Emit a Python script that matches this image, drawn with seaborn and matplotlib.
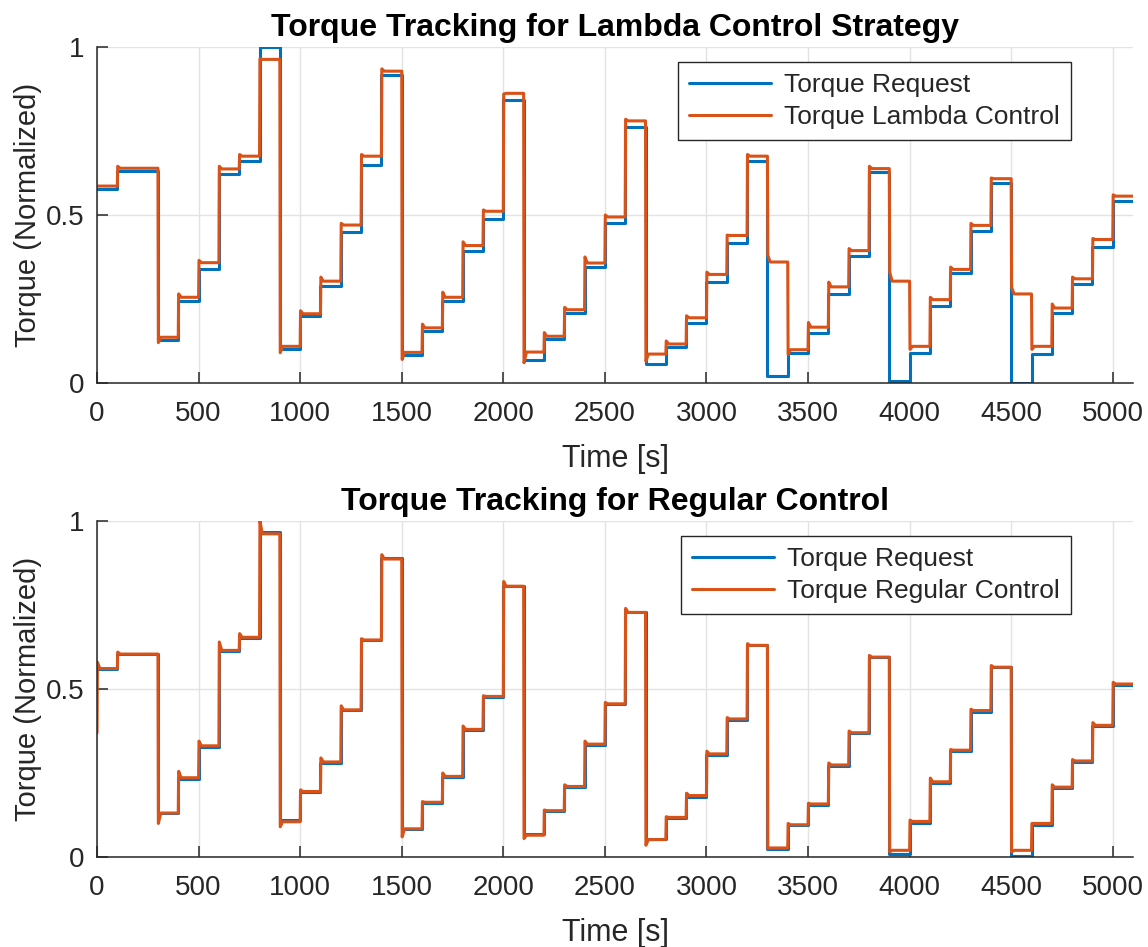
import numpy as np
import pandas as pd
import matplotlib
matplotlib.use("Agg")
import matplotlib.pyplot as plt
import seaborn as sns

# ---------------- data ----------------
seg_start = list(range(0, 5100, 100))   # each set-point lasts 100 s
t_end = 5100

# Top panel
top_request = [0.576, 0.631, 0.631, 0.127, 0.243, 0.340, 0.623, 0.660, 1.000, 0.102,
               0.198, 0.288, 0.450, 0.650, 0.916, 0.084, 0.156, 0.245, 0.392, 0.487,
               0.842, 0.067, 0.131, 0.208, 0.346, 0.477, 0.762, 0.055, 0.106, 0.179,
               0.300, 0.417, 0.660, 0.020, 0.089, 0.149, 0.266, 0.379, 0.628, 0.005,
               0.089, 0.230, 0.328, 0.452, 0.596, 0.000, 0.087, 0.207, 0.296, 0.404,
               0.543]
top_lambda = [0.586, 0.639, 0.639, 0.136, 0.255, 0.358, 0.637, 0.675, 0.963, 0.109,
              0.206, 0.303, 0.470, 0.675, 0.928, 0.091, 0.164, 0.255, 0.409, 0.511,
              0.862, 0.092, 0.139, 0.218, 0.357, 0.494, 0.780, 0.086, 0.116, 0.194,
              0.323, 0.439, 0.675, 0.360, 0.099, 0.166, 0.286, 0.394, 0.638, 0.303,
              0.109, 0.248, 0.338, 0.469, 0.608, 0.265, 0.109, 0.223, 0.310, 0.427,
              0.556]
top_lambda_peak = [0.586, 0.645, 0.639, 0.120, 0.265, 0.365, 0.645, 0.680, 0.965, 0.090,
                   0.215, 0.315, 0.475, 0.680, 0.935, 0.070, 0.175, 0.270, 0.420, 0.515,
                   0.860, 0.060, 0.150, 0.225, 0.375, 0.500, 0.785, 0.065, 0.125, 0.200,
                   0.330, 0.440, 0.680, 0.380, 0.085, 0.180, 0.300, 0.400, 0.645, 0.330,
                   0.100, 0.255, 0.345, 0.475, 0.610, 0.285, 0.100, 0.235, 0.315, 0.430,
                   0.560]
top_lambda_init = 0.586

# Bottom panel
bot_request = [0.559, 0.603, 0.603, 0.131, 0.233, 0.328, 0.613, 0.652, 0.968, 0.109,
               0.194, 0.281, 0.437, 0.645, 0.889, 0.084, 0.161, 0.238, 0.379, 0.477,
               0.808, 0.070, 0.136, 0.209, 0.333, 0.454, 0.730, 0.055, 0.116, 0.180,
               0.303, 0.408, 0.632, 0.023, 0.094, 0.154, 0.270, 0.368, 0.596, 0.010,
               0.102, 0.220, 0.317, 0.433, 0.567, 0.003, 0.094, 0.205, 0.284, 0.390,
               0.513]
bot_regular = [0.561, 0.604, 0.604, 0.131, 0.236, 0.331, 0.615, 0.654, 0.962, 0.105,
               0.195, 0.283, 0.438, 0.646, 0.887, 0.084, 0.163, 0.240, 0.380, 0.478,
               0.806, 0.065, 0.138, 0.210, 0.336, 0.456, 0.728, 0.052, 0.118, 0.183,
               0.307, 0.411, 0.630, 0.027, 0.096, 0.158, 0.274, 0.370, 0.595, 0.020,
               0.106, 0.224, 0.318, 0.436, 0.565, 0.020, 0.100, 0.208, 0.286, 0.392,
               0.515]
bot_regular_peak = [0.580, 0.610, 0.604, 0.100, 0.255, 0.345, 0.640, 0.665, 1.000, 0.090,
                    0.200, 0.295, 0.450, 0.650, 0.900, 0.060, 0.165, 0.250, 0.390, 0.480,
                    0.820, 0.055, 0.140, 0.215, 0.345, 0.460, 0.740, 0.035, 0.120, 0.190,
                    0.315, 0.415, 0.635, 0.025, 0.100, 0.160, 0.280, 0.375, 0.600, 0.015,
                    0.110, 0.235, 0.320, 0.440, 0.570, 0.015, 0.100, 0.215, 0.290, 0.400,
                    0.520]
bot_regular_init = 0.37

BLUE = "#0072BD"
ORANGE = "#D95319"


def request_frame(levels):
    t, y = [], []
    for i, s in enumerate(seg_start):
        e = seg_start[i + 1] if i + 1 < len(seg_start) else t_end
        t += [s, e]
        y += [levels[i], levels[i]]
    return pd.DataFrame({"t": t, "y": y})


def response_frame(levels, peaks, init):
    t, y = [0], [init]
    for i, s in enumerate(seg_start):
        e = seg_start[i + 1] if i + 1 < len(seg_start) else t_end
        t += [s + 2, s + 14, e]
        y += [peaks[i], levels[i], levels[i]]
    return pd.DataFrame({"t": t, "y": y})


sns.set_theme(style="ticks")
plt.rcParams["font.family"] = ["Liberation Sans", "DejaVu Sans"]

fig = plt.figure(figsize=(11.48, 9.47), dpi=100)
ax1 = fig.add_axes([0.0845, 0.5956, 0.9025, 0.3548])
ax2 = fig.add_axes([0.0845, 0.0950, 0.9025, 0.3548])

panels = [
    (ax1, top_request, top_lambda, top_lambda_peak, top_lambda_init,
     "Torque Lambda Control", "Torque Tracking for Lambda Control Strategy"),
    (ax2, bot_request, bot_regular, bot_regular_peak, bot_regular_init,
     "Torque Regular Control", "Torque Tracking for Regular Control"),
]

DARK = "#262626"
for ax, req, resp, peak, init, lab, title in panels:
    sns.lineplot(data=request_frame(req), x="t", y="y", ax=ax, color=BLUE,
                 lw=2.2, sort=False, estimator=None, label="Torque Request")
    sns.lineplot(data=response_frame(resp, peak, init), x="t", y="y", ax=ax,
                 color=ORANGE, lw=2.2, sort=False, estimator=None, label=lab)
    ax.set_xlim(0, 5100)
    ax.set_ylim(0, 1)
    ax.set_xticks([0, 500, 1000, 1500, 2000, 2500, 3000, 3500, 4000, 4500, 5000])
    ax.set_yticks([0, 0.5, 1])
    ax.set_yticklabels(["0", "0.5", "1"])
    ax.grid(True, color="#E3E3E3", lw=1.0)
    ax.set_axisbelow(True)
    for side in ["top", "right"]:
        ax.spines[side].set_visible(False)
    for side in ["left", "bottom"]:
        ax.spines[side].set_color(DARK)
        ax.spines[side].set_linewidth(1.1)
    ax.tick_params(axis="both", which="major", bottom=True, left=True,
                   top=False, right=False, direction="in", length=8, width=1.1,
                   color=DARK, labelcolor=DARK, labelsize=20)
    ax.tick_params(axis="x", pad=13)
    ax.tick_params(axis="y", pad=9)
    ax.set_xlabel("Time [s]", fontsize=22, color=DARK, labelpad=12)
    ax.set_ylabel("Torque (Normalized)", fontsize=21, color=DARK, labelpad=3)
    ax.set_title(title, fontsize=23, fontweight="bold", color="black", pad=8)
    leg = ax.legend(loc="upper right", bbox_to_anchor=(0.94, 0.955), fontsize=19,
                    frameon=True, fancybox=False, framealpha=1, edgecolor=DARK,
                    borderaxespad=0, handlelength=3.1, borderpad=0.42,
                    labelspacing=0.3, handletextpad=0.5)
    leg.get_frame().set_linewidth(1.0)

fig.savefig("out.png", dpi=100)
